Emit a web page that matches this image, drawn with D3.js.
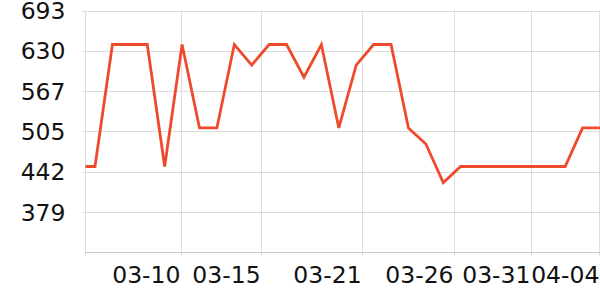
<!DOCTYPE html>
<html><head><meta charset="utf-8">
<script src="https://cdn.jsdelivr.net/npm/d3@7"></script>
<style>
html,body{margin:0;padding:0;background:#fff;}
text{font-family:"DejaVu Sans",sans-serif;fill:#111;}
</style></head>
<body><svg id="c" width="600" height="300"></svg>
<script>
// Data: one value per sample (first sample is partially outside the plot, clipped)
const values = [450,450,640,640,640,450,640,510,510,640,608,640,640,589,640,510,608,640,640,510,485,425,450,450,450,450,450,450,450,510,510];
// x tick labels and their positions in sample-index units
const xTickLabels = ["03-10","03-15","03-21","03-26","03-31","04-04"];
const xTickIndex = [5.91,10.51,16.31,21.59,26.01,29.97];
// y tick labels
const yTicks = [379,442,505,567,630,693];
const yDomain = [316,693];

const svg = d3.select("#c");
const L = 85.5, R = 600, T = 10.5, B = 252.5;
const x = d3.scaleLinear().domain([0.454, 30]).range([L, R]);
const y = d3.scaleLinear().domain(yDomain).range([B, T]);

svg.append("defs").append("clipPath").attr("id","clip")
  .append("rect").attr("x",L).attr("y",0).attr("width",R-L).attr("height",B);

// horizontal grid
svg.append("g").selectAll("line").data(yTicks).join("line")
  .attr("x1",L-3).attr("x2",R).attr("y1",d=>Math.round(y(d))+0.5).attr("y2",d=>Math.round(y(d))+0.5)
  .attr("stroke","#dcdcdc").attr("stroke-width",1);
// vertical grid
svg.append("g").selectAll("line").data(xTickIndex).join("line")
  .attr("x1",d=>Math.round(x(d))+0.5).attr("x2",d=>Math.round(x(d))+0.5).attr("y1",T).attr("y2",B+3)
  .attr("stroke","#dcdcdc").attr("stroke-width",1);
// left grid line
svg.append("line").attr("x1",L).attr("x2",L).attr("y1",T).attr("y2",B+3).attr("stroke","#dcdcdc");
// bottom axis line
svg.append("line").attr("x1",L).attr("x2",R).attr("y1",B).attr("y2",B).attr("stroke","#c8c8c8");

// y labels
svg.append("g").selectAll("text").data(yTicks).join("text")
  .attr("x",65.5).attr("y",d=>y(d)).attr("dy","0.36em").attr("text-anchor","end")
  .attr("font-size",23.5).text(d=>d);
// x labels
svg.append("g").selectAll("text").data(xTickIndex).join("text")
  .attr("x",d=>x(d)).attr("y",283).attr("text-anchor","end")
  .attr("font-size",23.5).text((d,i)=>xTickLabels[i]);

// line
const line = d3.line().x((d,i)=>x(i)).y(d=>y(d));
svg.append("path").datum(values).attr("clip-path","url(#clip)")
  .attr("d",line).attr("fill","none").attr("stroke","#ef4a2c").attr("stroke-width",2.8)
  .attr("stroke-linejoin","miter");
</script></body></html>
